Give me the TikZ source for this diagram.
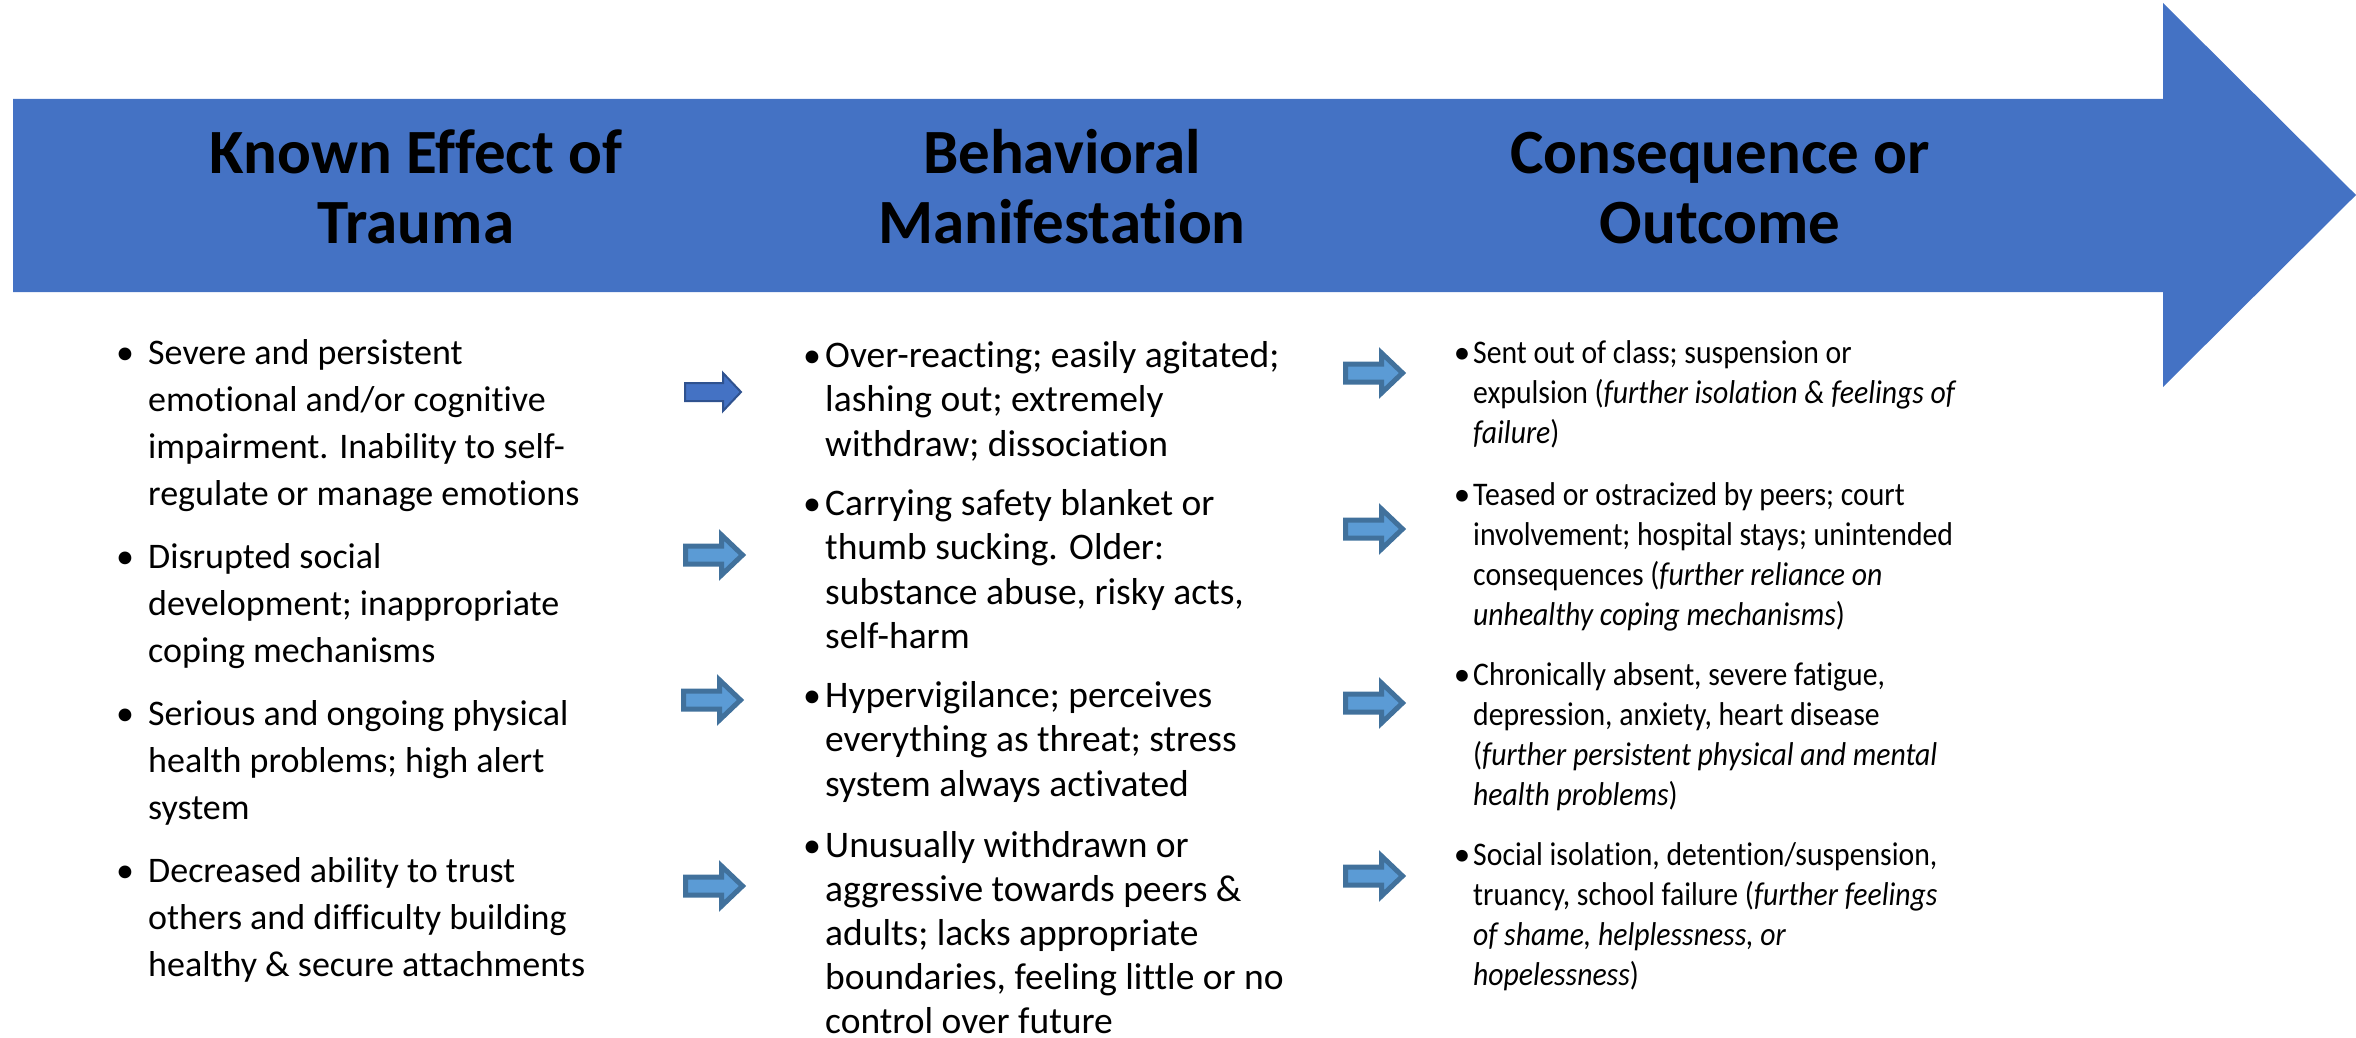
\documentclass[tikz,border=0pt]{standalone}
\usepackage{fontspec}
\setmainfont{Carlito}[Ligatures={NoCommon}]
\newfontfamily\condfont[FakeStretch=0.9,Ligatures={NoCommon}]{Carlito}
\definecolor{bigblue}{HTML}{4472C4}
\definecolor{darkedge}{HTML}{2F528F}
\definecolor{litefill}{HTML}{5B9BD5}
\definecolor{liteedge}{HTML}{41719C}
\tikzset{
  hdr/.style={anchor=base, inner sep=0pt, font=\fontsize{63}{63}\selectfont\bfseries},
  ctxtA/.style={anchor=base west, inner sep=0pt, font=\fontsize{36}{36}\selectfont},
  ctxtB/.style={anchor=base west, inner sep=0pt, font=\fontsize{37.5}{37.5}\selectfont},
  ctxtC/.style={anchor=base west, inner sep=0pt, font=\condfont\fontsize{33}{33}\selectfont},
  bulA/.style={anchor=base, inner sep=0pt, font=\fontsize{36}{36}\selectfont},
  bulC/.style={anchor=base, inner sep=0pt, font=\fontsize{33}{33}\selectfont},
  darkarr/.style={fill=bigblue, draw=darkedge, line width=2pt},
  litearr/.style={fill=litefill, draw=liteedge, line width=5pt},
  arrA/.pic={\path[pic actions] (0,-9) -- (38,-9) -- (38,-19) -- (56,0) -- (38,19) -- (38,9) -- (0,9) -- cycle;},
  arrB/.pic={\path[pic actions] (0,-9) -- (36,-9) -- (36,-20) -- (57,0) -- (36,20) -- (36,9) -- (0,9) -- cycle;}
}
\begin{document}
\begin{tikzpicture}[x=1pt,y=-1pt]
\useasboundingbox (0,0) rectangle (2356,1038);
% big arrow
\fill[bigblue] (13,99) -- (2163,99) -- (2163,3) -- (2356,195) -- (2163,387) -- (2163,292) -- (13,292) -- cycle;
% headers
\node[hdr] (h1a) at (416,173) {Known Effect of};
\node[hdr] (h1b) at (416,243) {Trauma};
\node[hdr] (h2a) at (1062,173) {Behavioral};
\node[hdr] (h2b) at (1062,243) {Manifestation};
\node[hdr] (h3a) at (1720,173) {Consequence or};
\node[hdr] (h3b) at (1720,243) {Outcome};
% column 1
\foreach \y/\n in {364/1,568/2,725/3,882/4} \node[bulA] (ba\n) at (125,\y) {•};
\foreach \t [count=\k] in {{Severe and persistent},{emotional and/or cognitive},{impairment. Inability to self-},{regulate or manage emotions}}
  \node[ctxtA] (a1l\k) at (148,{364+47*(\k-1)}) {\t};
\foreach \t [count=\k] in {{Disrupted social},{development; inappropriate},{coping mechanisms}}
  \node[ctxtA] (a2l\k) at (148,{568+47*(\k-1)}) {\t};
\foreach \t [count=\k] in {{Serious and ongoing physical},{health problems; high alert},{system}}
  \node[ctxtA] (a3l\k) at (148,{725+47*(\k-1)}) {\t};
\foreach \t [count=\k] in {{Decreased ability to trust},{others and difficulty building},{healthy \& secure attachments}}
  \node[ctxtA] (a4l\k) at (148,{882+47*(\k-1)}) {\t};
% column 2
\foreach \y/\n in {367/1,515/2,707/3,857/4} \node[bulA] (bb\n) at (812,\y) {•};
\foreach \t [count=\k] in {{Over-reacting; easily agitated;},{lashing out; extremely},{withdraw; dissociation}}
  \node[ctxtB] (b1l\k) at (825,{367+44.5*(\k-1)}) {\t};
\foreach \t [count=\k] in {{Carrying safety blanket or},{thumb sucking. Older:},{substance abuse, risky acts,},{self-harm}}
  \node[ctxtB] (b2l\k) at (825,{515+44.5*(\k-1)}) {\t};
\foreach \t [count=\k] in {{Hypervigilance; perceives},{everything as threat; stress},{system always activated}}
  \node[ctxtB] (b3l\k) at (825,{707+44.5*(\k-1)}) {\t};
\foreach \t [count=\k] in {{Unusually withdrawn or},{aggressive towards peers \&},{adults; lacks appropriate},{boundaries, feeling little or no},{control over future}}
  \node[ctxtB] (b4l\k) at (825,{857+44*(\k-1)}) {\t};
% column 3
\foreach \y/\n in {363/1,505/2,685/3,865/4} \node[bulC] (bc\n) at (1462,\y) {•};
\foreach \t [count=\k] in {{Sent out of class; suspension or},{expulsion (\textit{further isolation \& feelings of}},{\textit{failure})}}
  \node[ctxtC] (c1l\k) at (1473,{363+40*(\k-1)}) {\t};
\foreach \t [count=\k] in {{Teased or ostracized by peers; court},{involvement; hospital stays; unintended},{consequences (\textit{further reliance on}},{\textit{unhealthy coping mechanisms})}}
  \node[ctxtC] (c2l\k) at (1473,{505+40*(\k-1)}) {\t};
\foreach \t [count=\k] in {{Chronically absent, severe fatigue,},{depression, anxiety, heart disease},{(\textit{further persistent physical and mental}},{\textit{health problems})}}
  \node[ctxtC] (c3l\k) at (1473,{685+40*(\k-1)}) {\t};
\foreach \t [count=\k] in {{Social isolation, detention/suspension,},{truancy, school failure (\textit{further feelings}},{\textit{of shame, helplessness, or}},{\textit{hopelessness})}}
  \node[ctxtC] (c4l\k) at (1473,{865+40*(\k-1)}) {\t};
% small arrows
\pic[darkarr] (sa1) at (685,392) {arrA};
\pic[litearr] (sa2) at (685.5,555) {arrB};
\pic[litearr] (sa3) at (683.5,700) {arrB};
\pic[litearr] (sa4) at (685.5,886) {arrB};
\pic[litearr] (sb1) at (1345.5,373) {arrB};
\pic[litearr] (sb2) at (1345.5,529) {arrB};
\pic[litearr] (sb3) at (1345.5,703) {arrB};
\pic[litearr] (sb4) at (1345.5,876) {arrB};
\end{tikzpicture}
\end{document}
